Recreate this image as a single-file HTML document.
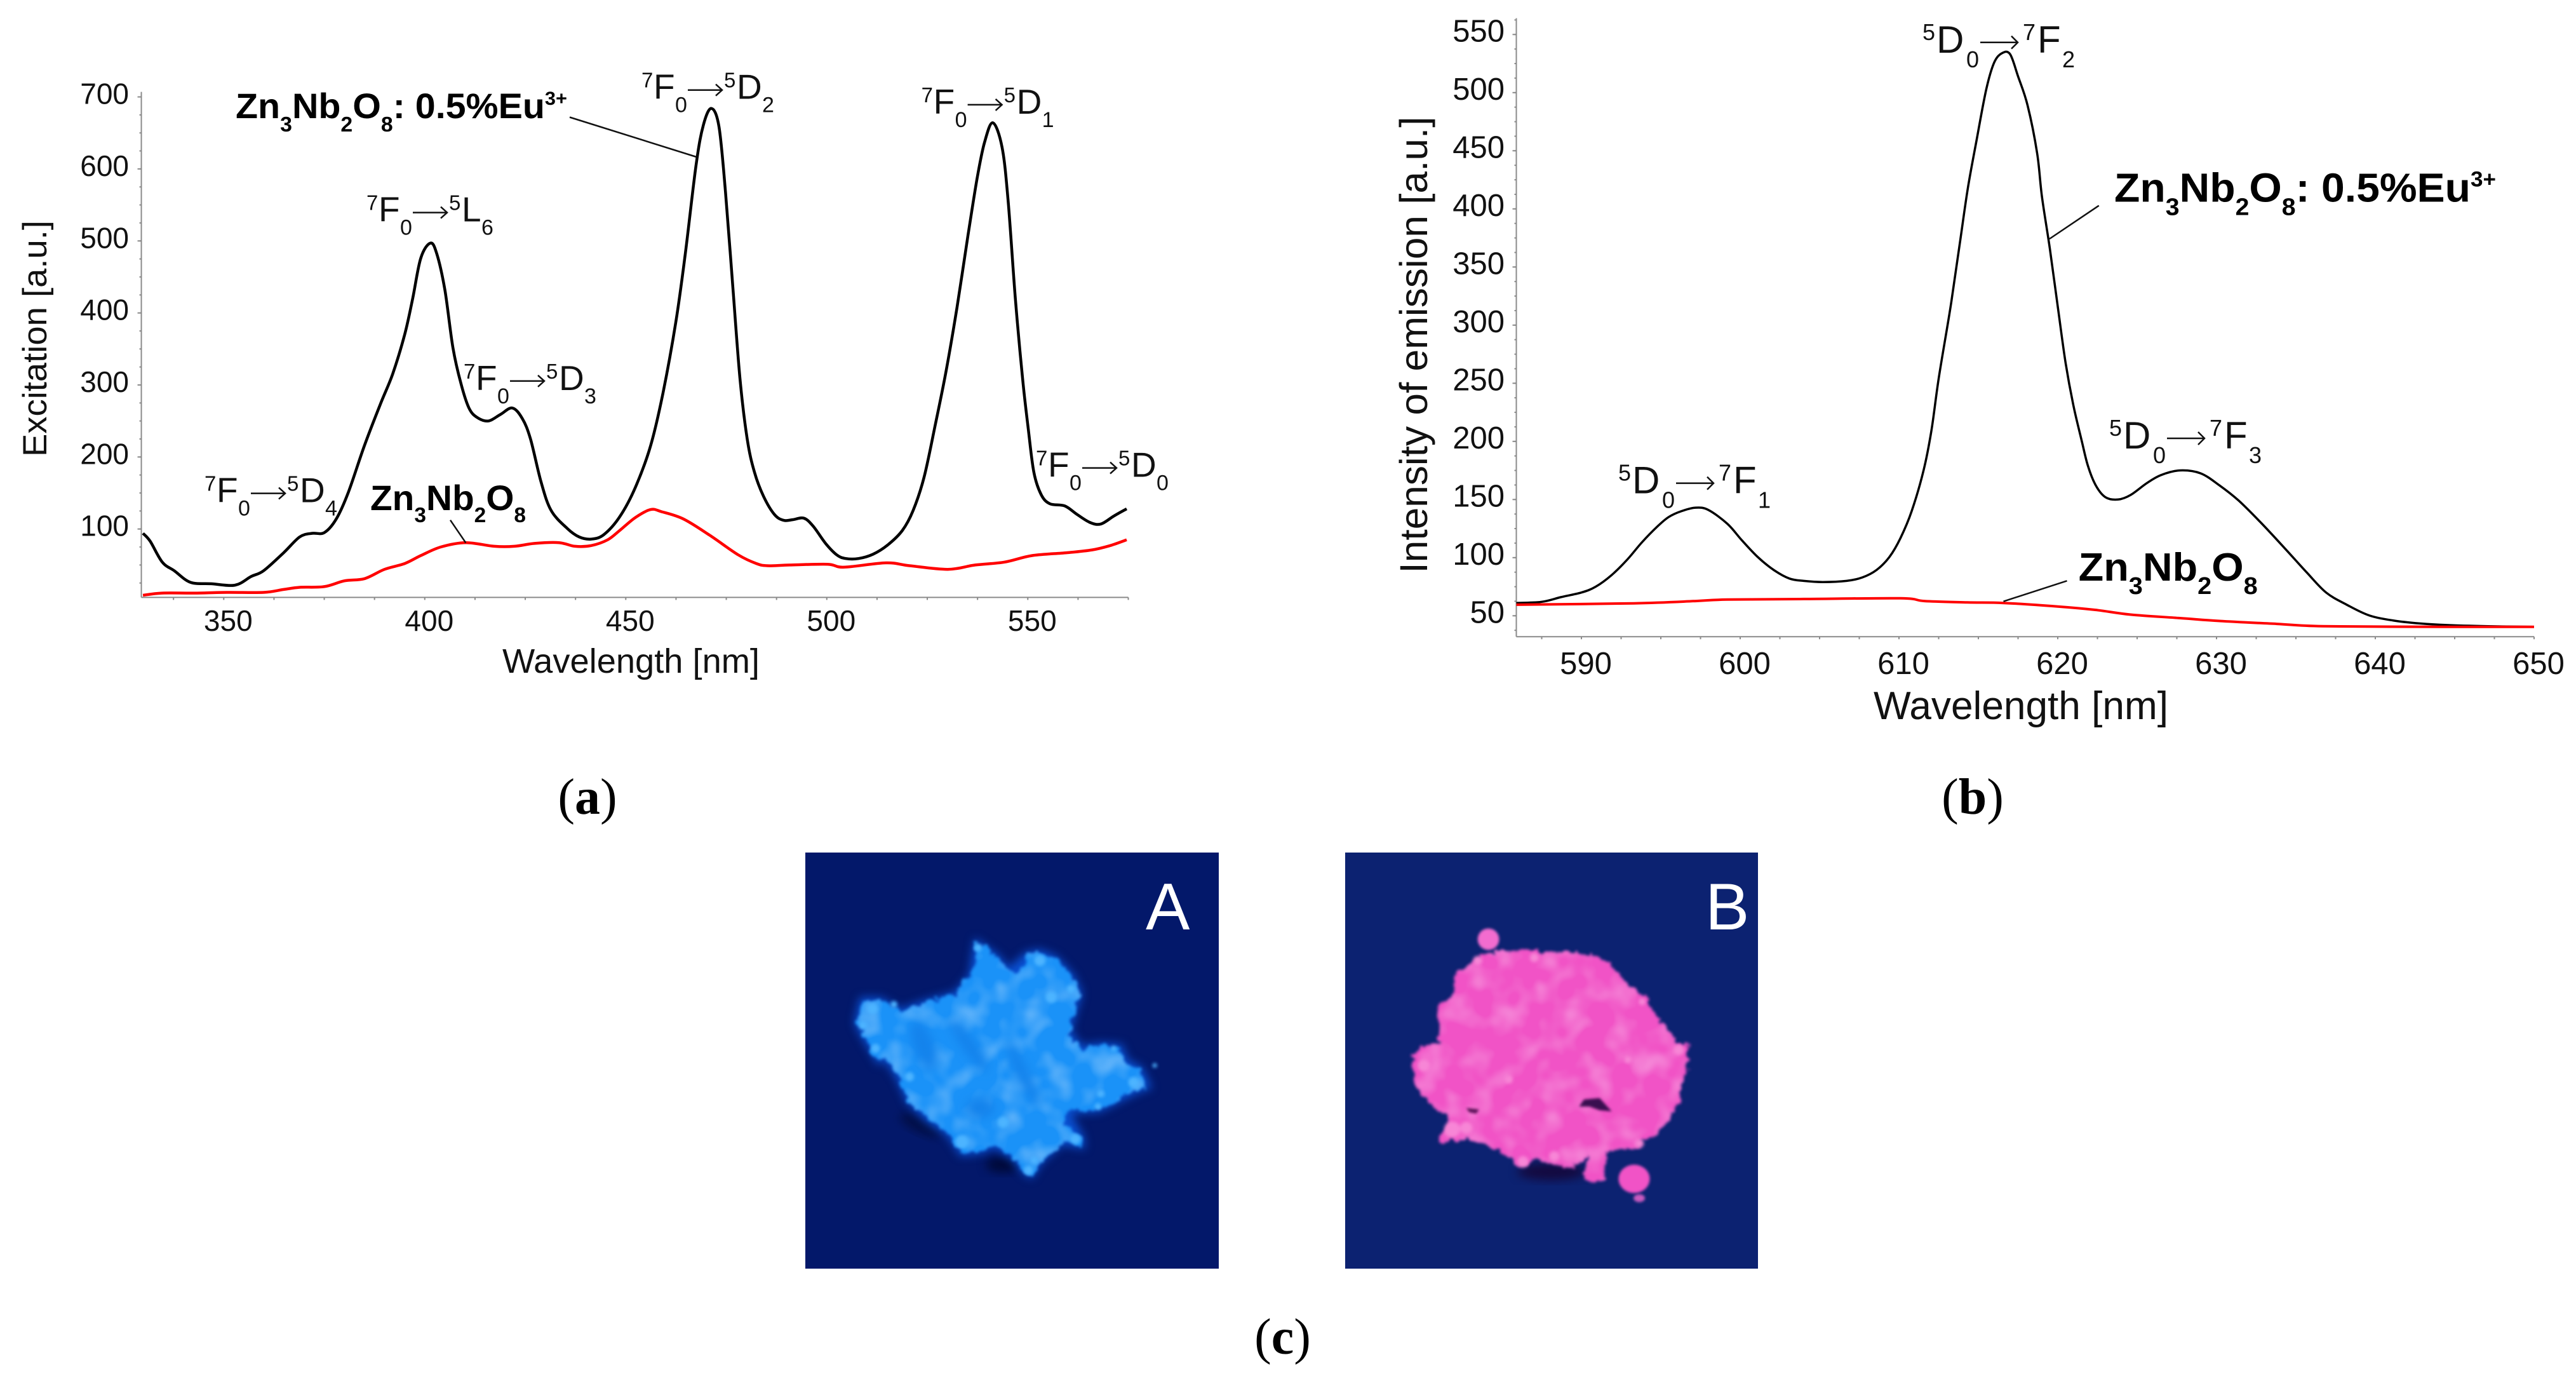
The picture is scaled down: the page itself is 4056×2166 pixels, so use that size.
<!DOCTYPE html>
<html lang="en">
<head>
<meta charset="utf-8">
<title>Zn3Nb2O8 excitation and emission spectra</title>
<style>
html,body{margin:0;padding:0;background:#fff;width:4056px;height:2166px;overflow:hidden}
svg{display:block}
text{font-family:"Liberation Sans",Arial,sans-serif;fill:#111}
.sa{font-size:55px}
.sb{font-size:60px}
.sa .u{font-size:33px}.sa .d{font-size:34px}
.sb .u{font-size:36px}.sb .d{font-size:36px}
.arrow{fill:none;stroke:#111;stroke-width:2.5}
.bold{font-weight:bold;fill:#000}
.leader{stroke:#111;stroke-width:2.5;fill:none}
.tick-label-a{font-size:46px}
.tick-label-b{font-size:49px}
.panel{font-family:"Liberation Serif",serif;font-size:80px;fill:#000}
.panel tspan.b{font-weight:bold}
</style>
</head>
<body>
<svg id="figure" xmlns="http://www.w3.org/2000/svg" width="4056" height="2166" viewBox="0 0 4056 2166">
  <defs>
    <filter id="glow" x="-30%" y="-30%" width="160%" height="160%" color-interpolation-filters="sRGB"><feGaussianBlur stdDeviation="16"/></filter>
    <filter id="speck" x="-80%" y="-80%" width="260%" height="260%" color-interpolation-filters="sRGB"><feGaussianBlur stdDeviation="6"/></filter>
    <filter id="grain" x="-30%" y="-30%" width="160%" height="160%" color-interpolation-filters="sRGB"><feGaussianBlur stdDeviation="5"/></filter>
    <filter id="powder" x="-15%" y="-15%" width="130%" height="130%" color-interpolation-filters="sRGB">
      <feTurbulence type="fractalNoise" baseFrequency="0.035" numOctaves="3" seed="4" result="n"/>
      <feDisplacementMap in="SourceGraphic" in2="n" scale="38" xChannelSelector="R" yChannelSelector="G" result="d"/>
      <feGaussianBlur in="d" stdDeviation="5.5" result="b"/>
      <feTurbulence type="fractalNoise" baseFrequency="0.012" numOctaves="2" seed="9" result="g"/>
      <feGaussianBlur in="g" stdDeviation="5" result="gs"/>
      <feColorMatrix in="gs" type="matrix" values="0 0 0 0 1  0 0 0 0 1  0 0 0 0 1  0.7 0 0 0 -0.3" result="w"/>
      <feComposite in="w" in2="b" operator="in" result="wc"/>
      <feMerge><feMergeNode in="b"/><feMergeNode in="wc"/></feMerge>
    </filter>
    <clipPath id="clip-a"><rect x="1268" y="1342" width="651" height="655"/></clipPath>
    <clipPath id="clip-b"><rect x="2118" y="1342" width="650" height="655"/></clipPath>
  </defs>

  <rect x="0" y="0" width="4056" height="2166" fill="#fff"/>

  <g id="chart-a"></g>
  <g id="chart-b"></g>

  <!-- Chart (a) text -->
  <text transform="translate(73,533) rotate(-90)" text-anchor="middle" font-size="52.5" textLength="372" lengthAdjust="spacingAndGlyphs">Excitation [a.u.]</text>
  <text x="791" y="1059" font-size="54" textLength="405" lengthAdjust="spacingAndGlyphs">Wavelength [nm]</text>

  <g transform="translate(322,790.6)">
    <text class="sa"><tspan class="u" x="0" dy="-18">7</tspan><tspan x="19" dy="18">F</tspan><tspan class="d" x="53" dy="21">0</tspan><tspan class="u" x="130" dy="-39">5</tspan><tspan x="150" dy="18">D</tspan><tspan class="d" x="190" dy="21">4</tspan></text>
    <path class="arrow" d="M73,-14H127M117,-23L127,-14L117,-5"/>
  </g>
  <g transform="translate(577,348.6)">
    <text class="sa"><tspan class="u" x="0" dy="-18">7</tspan><tspan x="19" dy="18">F</tspan><tspan class="d" x="53" dy="21">0</tspan><tspan class="u" x="130" dy="-39">5</tspan><tspan x="150" dy="18">L</tspan><tspan class="d" x="181" dy="21">6</tspan></text>
    <path class="arrow" d="M73,-14H127M117,-23L127,-14L117,-5"/>
  </g>
  <g transform="translate(730,613.8)">
    <text class="sa"><tspan class="u" x="0" dy="-18">7</tspan><tspan x="19" dy="18">F</tspan><tspan class="d" x="53" dy="21">0</tspan><tspan class="u" x="130" dy="-39">5</tspan><tspan x="150" dy="18">D</tspan><tspan class="d" x="190" dy="21">3</tspan></text>
    <path class="arrow" d="M73,-14H127M117,-23L127,-14L117,-5"/>
  </g>
  <g transform="translate(1010,155.7)">
    <text class="sa"><tspan class="u" x="0" dy="-18">7</tspan><tspan x="19" dy="18">F</tspan><tspan class="d" x="53" dy="21">0</tspan><tspan class="u" x="130" dy="-39">5</tspan><tspan x="150" dy="18">D</tspan><tspan class="d" x="190" dy="21">2</tspan></text>
    <path class="arrow" d="M73,-14H127M117,-23L127,-14L117,-5"/>
  </g>
  <g transform="translate(1450.6,178.9)">
    <text class="sa"><tspan class="u" x="0" dy="-18">7</tspan><tspan x="19" dy="18">F</tspan><tspan class="d" x="53" dy="21">0</tspan><tspan class="u" x="130" dy="-39">5</tspan><tspan x="150" dy="18">D</tspan><tspan class="d" x="190" dy="21">1</tspan></text>
    <path class="arrow" d="M73,-14H127M117,-23L127,-14L117,-5"/>
  </g>
  <g transform="translate(1631,750.6)">
    <text class="sa"><tspan class="u" x="0" dy="-18">7</tspan><tspan x="19" dy="18">F</tspan><tspan class="d" x="53" dy="21">0</tspan><tspan class="u" x="130" dy="-39">5</tspan><tspan x="150" dy="18">D</tspan><tspan class="d" x="190" dy="21">0</tspan></text>
    <path class="arrow" d="M73,-14H127M117,-23L127,-14L117,-5"/>
  </g>

  <text class="bold" x="371" y="186" font-size="56" textLength="522" lengthAdjust="spacingAndGlyphs">Zn<tspan font-size="33" dy="21">3</tspan><tspan dy="-21">Nb</tspan><tspan font-size="33" dy="21">2</tspan><tspan dy="-21">O</tspan><tspan font-size="33" dy="21">8</tspan><tspan dy="-21">: 0.5%Eu</tspan><tspan font-size="30" dy="-21">3+</tspan></text>
  <line class="leader" x1="897" y1="184.5" x2="1096.4" y2="247"/>
  <text class="bold" x="583" y="803" font-size="56" textLength="245" lengthAdjust="spacingAndGlyphs">Zn<tspan font-size="33" dy="19">3</tspan><tspan dy="-19">Nb</tspan><tspan font-size="33" dy="19">2</tspan><tspan dy="-19">O</tspan><tspan font-size="33" dy="19">8</tspan></text>
  <line class="leader" x1="709" y1="818.7" x2="733.4" y2="854.4"/>

  <!-- Chart (b) text -->
  <text transform="translate(2247,543) rotate(-90)" text-anchor="middle" font-size="61" textLength="719" lengthAdjust="spacingAndGlyphs">Intensity of emission [a.u.]</text>
  <text x="2950" y="1132" font-size="62" textLength="464" lengthAdjust="spacingAndGlyphs">Wavelength [nm]</text>

  <g transform="translate(2548,776.6)">
    <text class="sb"><tspan class="u" x="0" dy="-20">5</tspan><tspan x="22" dy="20">D</tspan><tspan class="d" x="69" dy="23">0</tspan><tspan class="u" x="158" dy="-43">7</tspan><tspan x="181" dy="20">F</tspan><tspan class="d" x="220" dy="23">1</tspan></text>
    <path class="arrow" d="M91,-16H150M140,-26L150,-16L140,-6"/>
  </g>
  <g transform="translate(3027,82.8)">
    <text class="sb"><tspan class="u" x="0" dy="-20">5</tspan><tspan x="22" dy="20">D</tspan><tspan class="d" x="69" dy="23">0</tspan><tspan class="u" x="158" dy="-43">7</tspan><tspan x="181" dy="20">F</tspan><tspan class="d" x="220" dy="23">2</tspan></text>
    <path class="arrow" d="M91,-16H150M140,-26L150,-16L140,-6"/>
  </g>
  <g transform="translate(3321,706)">
    <text class="sb"><tspan class="u" x="0" dy="-20">5</tspan><tspan x="22" dy="20">D</tspan><tspan class="d" x="69" dy="23">0</tspan><tspan class="u" x="158" dy="-43">7</tspan><tspan x="181" dy="20">F</tspan><tspan class="d" x="220" dy="23">3</tspan></text>
    <path class="arrow" d="M91,-16H150M140,-26L150,-16L140,-6"/>
  </g>

  <text class="bold" x="3329" y="317.6" font-size="64" textLength="601" lengthAdjust="spacingAndGlyphs">Zn<tspan font-size="38" dy="21">3</tspan><tspan dy="-21">Nb</tspan><tspan font-size="38" dy="21">2</tspan><tspan dy="-21">O</tspan><tspan font-size="38" dy="21">8</tspan><tspan dy="-21">: 0.5%Eu</tspan><tspan font-size="34" dy="-24">3+</tspan></text>
  <line class="leader" x1="3304.8" y1="323.6" x2="3227" y2="376"/>
  <text class="bold" x="3272.7" y="914" font-size="62" textLength="282" lengthAdjust="spacingAndGlyphs">Zn<tspan font-size="38" dy="21">3</tspan><tspan dy="-21">Nb</tspan><tspan font-size="38" dy="21">2</tspan><tspan dy="-21">O</tspan><tspan font-size="38" dy="21">8</tspan></text>
  <line class="leader" x1="3254.5" y1="914.3" x2="3154.5" y2="946.7"/>

  <!-- Panel letters -->
  <text class="panel" x="925" y="1281" text-anchor="middle">(<tspan class="b">a</tspan>)</text>
  <text class="panel" x="3106" y="1281" text-anchor="middle">(<tspan class="b">b</tspan>)</text>
  <text class="panel" x="2019.5" y="2131" text-anchor="middle">(<tspan class="b">c</tspan>)</text>

  <!-- Photo A -->
  <g clip-path="url(#clip-a)">
    <rect x="1268" y="1342" width="651" height="655" fill="#03186a"/>
    <g transform="translate(1240,1320) scale(0.44643)">
      <ellipse cx="760" cy="1150" rx="60" ry="28" fill="#000a3a" filter="url(#glow)"/>
      <ellipse cx="470" cy="1010" rx="80" ry="28" fill="#020f48" filter="url(#glow)" transform="rotate(25 470 1010)"/>
      <polygon fill="#0a4fd0" filter="url(#glow)" points="660,350 745,410 780,455 840,400 890,390 950,415 1010,480 1040,545 1020,610 1000,680 1040,730 1100,720 1180,725 1200,780 1250,805 1285,880 1230,900 1160,935 1100,965 1000,970 1045,1050 1050,1095 970,1080 900,1140 860,1200 830,1180 790,1130 730,1090 690,1110 610,1120 565,1050 490,1000 420,930 380,840 340,780 320,800 260,700 235,650 255,560 330,560 400,600 480,570 590,540 640,480"/>
      <polygon fill="#1a92f8" filter="url(#powder)" points="660,360 700,385 745,420 780,465 820,470 840,410 890,400 950,425 1000,480 1030,545 1010,610 1000,660 985,695 1040,740 1100,730 1170,735 1190,790 1240,815 1270,880 1220,890 1160,925 1100,955 990,960 975,1000 1035,1050 1040,1085 970,1070 900,1130 860,1190 830,1170 790,1120 730,1080 690,1100 610,1110 575,1050 500,990 430,930 390,840 350,770 320,790 270,700 245,650 265,570 330,570 400,610 480,580 590,550 640,490 665,430"/>
      <g fill="#1483ec" filter="url(#glow)">
        <ellipse cx="640" cy="730" rx="24" ry="110" transform="rotate(-35 640 730)"/>
        <ellipse cx="830" cy="830" rx="22" ry="120" transform="rotate(-25 830 830)"/>
        <ellipse cx="480" cy="730" rx="36" ry="90" transform="rotate(-20 480 730)"/>
        <ellipse cx="680" cy="950" rx="50" ry="36"/>
      </g>
      <g fill="#4db4ff" filter="url(#speck)">
        <circle cx="672" cy="385" r="14"/><circle cx="890" cy="430" r="20"/><circle cx="930" cy="560" r="20"/><circle cx="375" cy="585" r="12"/>
        <circle cx="300" cy="600" r="18"/><circle cx="265" cy="660" r="14"/><circle cx="310" cy="740" r="16"/><circle cx="1000" cy="530" r="14"/>
        <circle cx="1105" cy="900" r="12"/><circle cx="1220" cy="860" r="18"/><circle cx="1095" cy="945" r="12"/><circle cx="1015" cy="1060" r="18"/>
        <circle cx="850" cy="1170" r="16"/><circle cx="615" cy="1070" r="24"/><circle cx="760" cy="1000" r="20"/><circle cx="870" cy="1135" r="12"/>
        <circle cx="430" cy="840" r="16"/><circle cx="1150" cy="740" r="10"/><circle cx="1295" cy="800" r="8"/>
      </g>
    </g>
    <text x="1804" y="1463" font-size="104" style="fill:#fff">A</text>
  </g>

  <!-- Photo B -->
  <g clip-path="url(#clip-b)">
    <rect x="2118" y="1342" width="650" height="655" fill="#0c2271"/>
    <g transform="translate(2090,1320) scale(0.44643)">
      <ellipse cx="790" cy="1175" rx="120" ry="30" fill="#140a40" filter="url(#glow)"/>
      <polygon fill="#f153c6" filter="url(#powder)" points="530,420 600,395 720,395 800,400 930,405 1000,445 1060,510 1130,570 1170,640 1225,715 1275,730 1270,800 1240,920 1200,1000 1130,1060 1090,1090 1000,1100 930,1110 880,1150 800,1160 740,1120 690,1160 640,1130 600,1105 560,1080 480,1060 390,1065 430,990 370,940 310,870 300,770 330,735 395,720 385,600 440,555 440,490 500,450"/>
      <circle cx="568" cy="355" r="38" fill="#f36ccf" filter="url(#grain)"/>
      <ellipse cx="1082" cy="1200" rx="55" ry="50" fill="#f153c6" filter="url(#grain)"/>
      <ellipse cx="1100" cy="1268" rx="20" ry="14" fill="#c95ac0" filter="url(#grain)"/>
      <polygon fill="#f153c6" filter="url(#powder)" points="925,1085 990,1085 980,1200 960,1215 900,1205"/>
      <polygon fill="#3a0f50" filter="url(#grain)" points="888,945 905,920 960,915 1003,962 960,958 925,945"/>
      <polygon fill="#5a1258" filter="url(#grain)" points="490,950 535,955 525,970 500,965"/>
      <g fill="#f786d6" filter="url(#speck)">
        <circle cx="640" cy="850" r="14"/><circle cx="440" cy="1025" r="28"/><circle cx="490" cy="1020" r="22"/><circle cx="340" cy="800" r="22"/>
        <circle cx="690" cy="1140" r="20"/><circle cx="1240" cy="745" r="18"/><circle cx="530" cy="430" r="16"/><circle cx="730" cy="420" r="16"/>
        <circle cx="1110" cy="575" r="12"/><circle cx="800" cy="1120" r="18"/><circle cx="1100" cy="1075" r="16"/><circle cx="1060" cy="780" r="12"/>
      </g>
    </g>
    <text x="2685" y="1463" font-size="104" style="fill:#fff">B</text>
  </g>
</svg>

<script>
// ---------- Chart (a): excitation ----------
const excitationXTicks = [350, 400, 450, 500, 550];
const excitationYTicks = [100, 200, 300, 400, 500, 600, 700];
const excitationDopedWavelength = [329.9,331.7,334.7,337.7,341.7,346.8,352.8,356.8,359.9,364.9,368.9,372,375,378,381,385,389,392,395,397,399,401.4,403,405,407,409,411,413,415.8,418.8,421.8,424.3,426.3,428.9,431.4,435.4,438.4,441.4,444.5,448.5,452.4,456.2,459.3,462.5,464.8,467.5,469.3,471.3,473.2,474.8,476.6,478.4,480.2,482,484.3,487,489.3,491.6,494.3,496.6,499.7,502.5,504.7,507.9,511.5,515.2,518.8,521.5,524.2,527,529.7,532.4,535.1,537.4,539.2,541.3,543.6,545.1,546.9,548.7,550.1,551.5,553.3,555.5,559.2,562.3,565.5,568.2,571.4,574.6];
const excitationDopedValue = [94,83,54,42,26,24,22,34,42,67,89,94,95,114,151,216,274,315,370,420,476,497,482,432,352,302,268,255,250,259,268,253,225,166,126,101,89,86,92,117,158,216,290,389,482,606,661,684,658,568,438,309,225,179,145,120,112,113,115,104,80,64,59,59,65,78,98,126,172,245,320,408,507,587,636,664,630,556,420,309,240,179,148,135,132,120,109,107,118,128];
const excitationHostWavelength = [329.9,334.7,342.7,350.8,359.9,364.9,368.9,375,380,385,390,395,399,404,410.2,417.3,422.3,427.3,433.4,437.4,441.4,445.5,448.5,452.4,456.2,458.9,464.3,470.7,478,482.5,485.2,490.7,500.2,504.3,514.7,520.6,530.1,536.9,544.2,551,559.6,566,570.5,574.6];
const excitationHostValue = [8,11,11,12,12,16,19,20,28,31,44,52,63,75,81,76,76,80,81,76,77,85,98,116,127,124,114,92,64,52,49,50,51,47,53,49,44,50,54,63,67,71,77,85];

// ---------- Chart (b): emission ----------
const emissionXTicks = [590, 600, 610, 620, 630, 640, 650];
const emissionYTicks = [50, 100, 150, 200, 250, 300, 350, 400, 450, 500, 550];
const emissionDopedWavelength = [585.9,587.5,588.7,590,590.9,591.9,592.9,593.8,594.8,595.5,596.3,597.2,598,599.2,600.1,601.1,602.1,603.1,604,605.2,606.7,607.7,608.6,609.4,610.1,610.8,611.55,612.04,612.5,613.25,613.86,614.34,614.9,615.5,616,616.5,617,617.5,618.1,618.7,619,619.5,620,620.5,621,621.5,621.9,622.4,623,623.8,624.6,625.6,626.5,627.7,629,630.2,631.4,632.8,634.3,635.7,636.9,638.2,639.6,641.1,642.8,644.5,647.1,650];
const emissionDopedValue = [61,62,66,70,75,85,98.5,113,127,135,140,143,141,129,115,100.6,89.5,82,80,79,80,83,89.5,100.6,117,140,175,209,254,316,373,418,460,503,526,534,533,514,489,448,411,366,316,267,230,201,179,162,152,150,154,164,171,175,172.5,162,149,130,108,87,70,59.5,50.4,46,43.4,42,41,40.5];
const emissionHostWavelength = [585.9,593.3,597.2,599.2,604,610.1,611.6,614.3,616.6,620,622.4,624.6,627.7,630.2,633.8,636.7,644.5,650];
const emissionHostValue = [59.5,60.7,62.7,64,64.4,65,62.7,61.5,61,58,55,51,48,45.5,43,41,40.5,40.5];

const SVG_NS = 'http://www.w3.org/2000/svg';

// Axis functions
function excitationX(w) { return 352.3 + (w - 350) * 6.33; }
function excitationY(v) { return 832.7 - (v - 100) * 1.1336; }
function emissionX(w) { return 2490 + (w - 590) * 25; }
function emissionY(v) { return 969.3 - (v - 50) * 1.83; }

function smoothPath(xs, ys, xScale, yScale) {
  const p = xs.map(function (x, i) { return [xScale(x), yScale(ys[i])]; });
  let d = 'M' + p[0][0].toFixed(1) + ',' + p[0][1].toFixed(1);
  for (let i = 0; i < p.length - 1; i++) {
    const a = p[Math.max(i - 1, 0)], b = p[i], c = p[i + 1], e = p[Math.min(i + 2, p.length - 1)];
    const c1x = b[0] + (c[0] - a[0]) / 6, c1y = b[1] + (c[1] - a[1]) / 6;
    const c2x = c[0] - (e[0] - b[0]) / 6, c2y = c[1] - (e[1] - b[1]) / 6;
    d += 'C' + c1x.toFixed(1) + ',' + c1y.toFixed(1) + ' ' + c2x.toFixed(1) + ',' + c2y.toFixed(1) + ' ' + c[0].toFixed(1) + ',' + c[1].toFixed(1);
  }
  return d;
}

function addLine(parent, x1, y1, x2, y2, name) {
  const el = document.createElementNS(SVG_NS, 'line');
  el.setAttribute('x1', x1);
  el.setAttribute('y1', y1);
  el.setAttribute('x2', x2);
  el.setAttribute('y2', y2);
  el.setAttribute('stroke', '#8a8a8a');
  el.setAttribute('stroke-width', '2');
  
  
  parent.appendChild(el);
}

function addTickLabel(parent, x, y, value, anchor, cls, name) {
  const el = document.createElementNS(SVG_NS, 'text');
  el.setAttribute('x', x);
  el.setAttribute('y', y);
  el.setAttribute('text-anchor', anchor);
  el.setAttribute('class', cls);
  
  
  el.textContent = value;
  parent.appendChild(el);
}

function addCurve(parent, xs, ys, xScale, yScale, color, width, name) {
  const el = document.createElementNS(SVG_NS, 'path');
  el.setAttribute('d', smoothPath(xs, ys, xScale, yScale));
  el.setAttribute('fill', 'none');
  el.setAttribute('stroke', color);
  el.setAttribute('stroke-width', width);
  el.setAttribute('stroke-linejoin', 'round');
  
  
  parent.appendChild(el);
}

function drawChart(parent, xScale, yScale, o) {
  addLine(parent, xScale(o.xMin), yScale(o.yMin), xScale(o.xMax), yScale(o.yMin), 'x-axis-line');
  addLine(parent, xScale(o.xMin), yScale(o.yMin), xScale(o.xMin), yScale(o.yMax), 'y-axis-line');
  const axisY = yScale(o.yMin), axisX = xScale(o.xMin);
  for (let w = o.xMinorStart; w <= o.xMax + 0.001; w += o.xMinorStep) {
    addLine(parent, xScale(w), axisY, xScale(w), axisY + 4, 'x-tick');
  }
  for (let v = o.yMinorStart; v <= o.yMax + 0.001; v += o.yMinorStep) {
    addLine(parent, axisX - 3, yScale(v), axisX, yScale(v), 'y-minor-tick');
  }
  o.yTicks.forEach(function (v) {
    addLine(parent, axisX - 6, yScale(v), axisX, yScale(v), 'y-major-tick');
    addTickLabel(parent, o.yLabelX, yScale(v) + o.yLabelDy, v, 'end', o.labelClass, 'y-tick-label');
  });
  o.xTicks.forEach(function (w) {
    addTickLabel(parent, xScale(w) + 7, o.xLabelY, w, 'middle', o.labelClass, 'x-tick-label');
  });
}

const chartA = document.getElementById('chart-a');
drawChart(chartA, excitationX, excitationY, {
  xMin: 329.5, xMax: 575, yMin: 5, yMax: 707,
  xMinorStart: 337.5, xMinorStep: 12.5, yMinorStart: 25, yMinorStep: 25,
  xTicks: excitationXTicks, yTicks: excitationYTicks,
  yLabelX: 203, yLabelDy: 11, xLabelY: 993, labelClass: 'tick-label-a'
});
addCurve(chartA, excitationDopedWavelength, excitationDopedValue, excitationX, excitationY, '#000', 4.5, 'doped-excitation-curve');
addCurve(chartA, excitationHostWavelength, excitationHostValue, excitationX, excitationY, '#f00', 4.5, 'host-excitation-curve');

const chartB = document.getElementById('chart-b');
drawChart(chartB, emissionX, emissionY, {
  xMin: 585.9, xMax: 650, yMin: 32, yMax: 564,
  xMinorStart: 587.5, xMinorStep: 2.5, yMinorStart: 37.5, yMinorStep: 12.5,
  xTicks: emissionXTicks, yTicks: emissionYTicks,
  yLabelX: 2369, yLabelDy: 11, xLabelY: 1061, labelClass: 'tick-label-b'
});
addCurve(chartB, emissionDopedWavelength, emissionDopedValue, emissionX, emissionY, '#000', 3.5, 'doped-emission-curve');
addCurve(chartB, emissionHostWavelength, emissionHostValue, emissionX, emissionY, '#f00', 4, 'host-emission-curve');
</script>
</body>
</html>
